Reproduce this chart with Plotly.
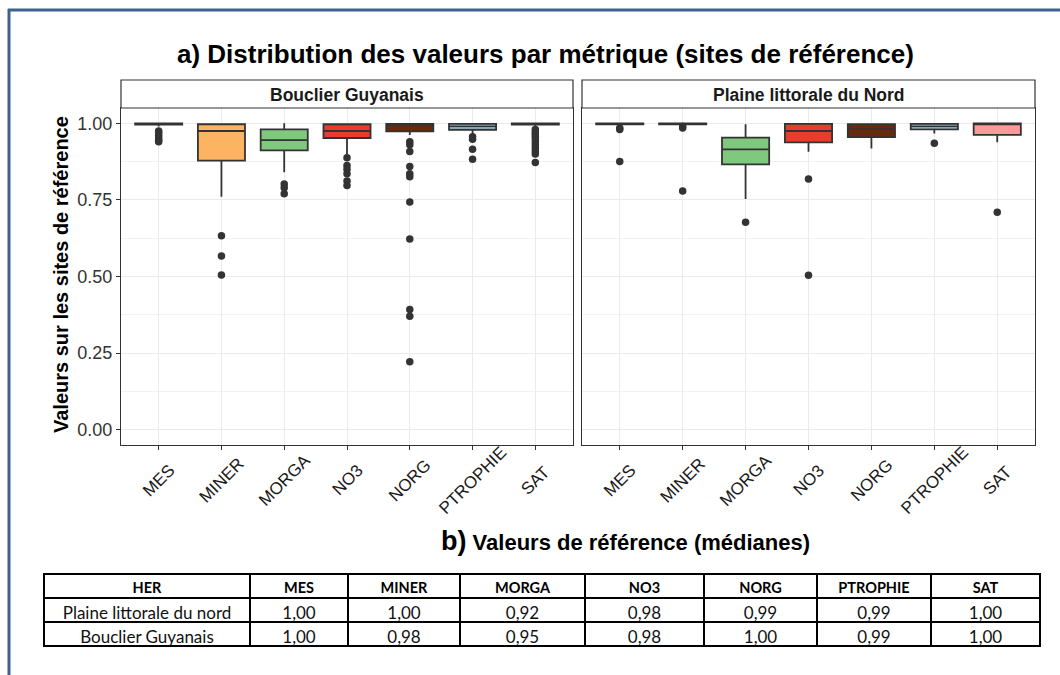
import plotly.graph_objects as go

# ---------------- data ----------------
metrics = ["MES", "MINER", "MORGA", "NO3", "NORG", "PTROPHIE", "SAT"]
fill_colors = ["#333333", "#FDB462", "#7FC97F", "#EC3A2C", "#6A2A0A", "#A6CEE3", "#FB9A99"]

panels = ["Bouclier Guyanais", "Plaine littorale du Nord"]

# Bouclier Guyanais
bg_q1 = [0.996, 0.878, 0.912, 0.952, 0.974, 0.979, 0.996]
bg_med = [1.000, 0.975, 0.945, 0.975, 0.995, 0.990, 1.000]
bg_q3 = [1.000, 0.997, 0.980, 0.997, 0.998, 0.998, 1.000]
bg_low = [0.990, 0.760, 0.840, 0.890, 0.962, 0.965, 0.990]
bg_up = [1.000, 1.000, 1.000, 1.000, 1.000, 1.000, 1.000]
bg_out = [
    [0.975, 0.968, 0.960, 0.952, 0.945, 0.940],
    [0.633, 0.567, 0.505],
    [0.802, 0.790, 0.770],
    [0.888, 0.862, 0.850, 0.835, 0.812, 0.797],
    [0.940, 0.930, 0.908, 0.859, 0.835, 0.826, 0.743, 0.622, 0.392, 0.370, 0.222],
    [0.956, 0.948, 0.915, 0.883],
    [0.980, 0.972, 0.965, 0.958, 0.950, 0.940, 0.930, 0.920, 0.910, 0.900, 0.872],
]

# Plaine littorale du Nord
pl_q1 = [0.997, 0.997, 0.866, 0.938, 0.955, 0.980, 0.962]
pl_med = [1.000, 1.000, 0.915, 0.975, 0.981, 0.990, 0.997]
pl_q3 = [1.000, 1.000, 0.953, 0.998, 0.997, 0.998, 1.000]
pl_low = [0.995, 0.995, 0.753, 0.907, 0.918, 0.967, 0.938]
pl_up = [1.000, 1.000, 0.997, 1.000, 1.000, 1.000, 1.000]
pl_out = [
    [0.985, 0.980, 0.875],
    [0.990, 0.985, 0.779],
    [0.677],
    [0.818, 0.504],
    [],
    [0.935],
    [0.710],
]

y_ticks = [0, 0.25, 0.5, 0.75, 1.0]
y_ticktext = ["0.00", "0.25", "0.50", "0.75", "1.00"]

table_header = ["HER", "MES", "MINER", "MORGA", "NO3", "NORG", "PTROPHIE", "SAT"]
table_row1 = ["Plaine littorale du nord", "1,00", "1,00", "0,92", "0,98", "0,99", "0,99", "1,00"]
table_row2 = ["Bouclier Guyanais", "1,00", "0,98", "0,95", "0,98", "1,00", "0,99", "1,00"]

title_a = "a) Distribution des valeurs par métrique (sites de référence)"
title_b = "Valeurs de référence (médianes)"
y_title = "Valeurs sur les sites de référence"

# ---------------- layout helpers ----------------
W, H = 1060, 675
def px(x):
    return x / W
def py(y):
    return 1 - y / H

LINE = "#333333"
GRID = "#EBEBEB"
SANS = "Liberation Sans, Arial, sans-serif"
TABLE_FONT = "Lato, Open Sans, sans-serif"

fig = go.Figure()

panel_data = [
    (bg_q1, bg_med, bg_q3, bg_low, bg_up, bg_out, "x", "y"),
    (pl_q1, pl_med, pl_q3, pl_low, pl_up, pl_out, "x2", "y2"),
]

for q1, med, q3, low, up, outs, xa, ya in panel_data:
    for i, m in enumerate(metrics):
        fig.add_trace(go.Box(
            x=[m], q1=[q1[i]], median=[med[i]], q3=[q3[i]],
            lowerfence=[low[i]], upperfence=[up[i]],
            fillcolor=fill_colors[i], line=dict(color=LINE, width=1.8),
            width=0.75, whiskerwidth=0, boxpoints=False,
            xaxis=xa, yaxis=ya, showlegend=False, hoverinfo="skip",
        ))
    for i, m in enumerate(metrics):
        if outs[i]:
            fig.add_trace(go.Scatter(
                x=[m] * len(outs[i]), y=outs[i], mode="markers",
                marker=dict(color=LINE, size=7.5),
                xaxis=xa, yaxis=ya, showlegend=False, hoverinfo="skip",
            ))

# Table
fig.add_trace(go.Table(
    domain=dict(x=[px(44), px(1040)], y=[0.0, py(574)]),
    columnwidth=[206, 98, 112, 125, 119, 113, 114, 109],
    header=dict(
        values=table_header,
        align="center", height=24,
        font=dict(family=TABLE_FONT, size=14.5, color="black", weight="bold"),
        fill_color="white", line=dict(color="black", width=1.5),
    ),
    cells=dict(
        values=[[table_row1[j], table_row2[j]] for j in range(len(table_header))],
        align="center", height=24,
        font=dict(family=TABLE_FONT, size=17, color="#111111"),
        fill_color="white", line=dict(color="black", width=1.5),
    ),
))

tickfont = dict(family=SANS, size=18, color="#333333")

common_x = dict(
    type="category", categoryorder="array", categoryarray=metrics,
    range=[-0.6, 6.6], ticks="outside", ticklen=4, showticklabels=False,
    tickcolor=LINE, showgrid=True, gridcolor=GRID, gridwidth=1.2,
    showline=True, linecolor=LINE, linewidth=1.2, mirror=True, zeroline=False,
)
common_y = dict(
    range=[-0.05, 1.05], domain=[py(445), py(108)],
    tickvals=y_ticks, ticktext=y_ticktext, showgrid=True, gridcolor=GRID, gridwidth=1.2,
    minor=dict(tickvals=[0.125, 0.375, 0.625, 0.875], showgrid=True,
               gridcolor="#F2F2F2", gridwidth=0.8, ticks=""),
    showline=True, linecolor=LINE, linewidth=1.2, mirror=True, zeroline=False,
)

fig.update_layout(
    width=W, height=H, autosize=False,
    margin=dict(l=0, r=0, t=0, b=0),
    paper_bgcolor="white", plot_bgcolor="white",
    boxmode="overlay",
    xaxis={**common_x, "domain": [px(121), px(573)], "anchor": "y"},
    xaxis2={**common_x, "domain": [px(582), px(1035)], "anchor": "y2"},
    yaxis={**common_y, "anchor": "x", "ticks": "outside", "ticklen": 4,
           "tickcolor": LINE, "tickfont": tickfont},
    yaxis2={**common_y, "anchor": "x2", "matches": "y", "showticklabels": False,
            "ticks": ""},
)

shapes = []
annotations = []
# strips
for (x0, x1), name in zip([(121, 573), (582, 1035)], panels):
    shapes.append(dict(type="rect", xref="paper", yref="paper",
                       x0=px(x0), x1=px(x1), y0=py(108), y1=py(80),
                       line=dict(color=LINE, width=1.2), fillcolor="white"))
    annotations.append(dict(text="<b>%s</b>" % name, xref="paper", yref="paper",
                            x=px((x0 + x1) / 2), y=py(95), showarrow=False,
                            xanchor="center", yanchor="middle",
                            font=dict(family=SANS, size=17.5, color="#1a1a1a")))
# centred, rotated category labels (ggplot style)
for xa in ["x", "x2"]:
    for m in metrics:
        annotations.append(dict(text=m, xref=xa, yref="paper", x=m, y=py(480),
                                showarrow=False, textangle=-45,
                                xanchor="center", yanchor="middle",
                                font=dict(family=SANS, size=17, color="#1a1a1a")))
# frame lines
shapes.append(dict(type="line", xref="paper", yref="paper",
                   x0=px(9), x1=px(9), y0=0, y1=py(9),
                   line=dict(color="#3E6190", width=3)))
shapes.append(dict(type="line", xref="paper", yref="paper",
                   x0=px(8), x1=1, y0=py(10), y1=py(10),
                   line=dict(color="#3E6190", width=3)))

annotations.append(dict(text="<b>%s</b>" % title_a, xref="paper", yref="paper",
                        x=px(545), y=py(54), showarrow=False,
                        xanchor="center", yanchor="middle",
                        font=dict(family=SANS, size=26, color="black")))
annotations.append(dict(text="<b>%s</b>" % y_title, xref="paper", yref="paper",
                        x=px(61), y=py(275), showarrow=False, textangle=-90,
                        xanchor="center", yanchor="middle",
                        font=dict(family=SANS, size=20, color="black")))
annotations.append(dict(text="<b><span style='font-size:27px'>b)</span> %s</b>" % title_b,
                        xref="paper", yref="paper",
                        x=px(625), y=py(541), showarrow=False,
                        xanchor="center", yanchor="middle",
                        font=dict(family=SANS, size=22, color="black")))

fig.update_layout(shapes=shapes, annotations=annotations)

fig.write_html("out.html", config={"displayModeBar": False},
               post_script="document.body.style.margin='0px';")
